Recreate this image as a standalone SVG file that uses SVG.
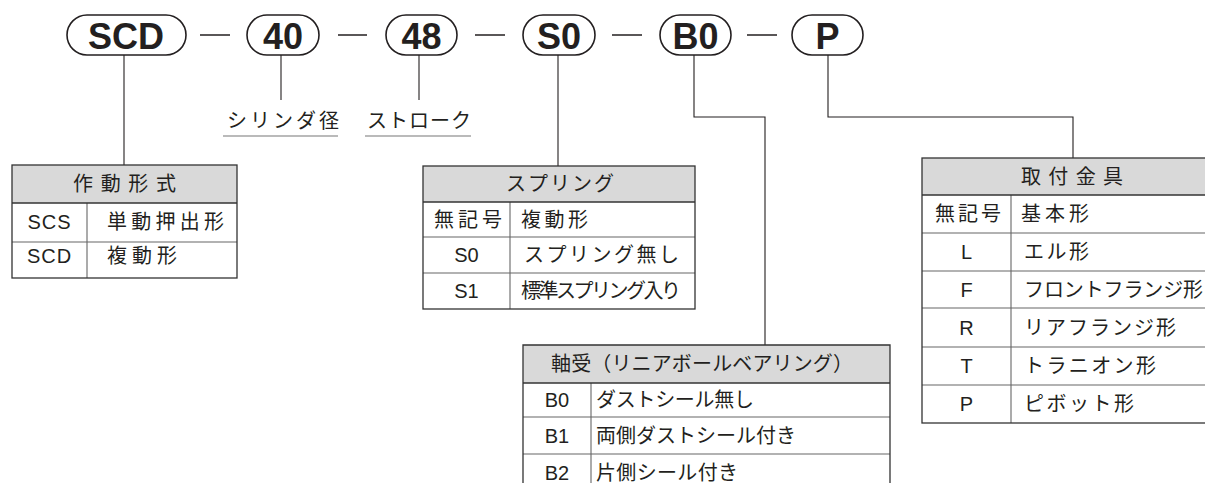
<svg xmlns="http://www.w3.org/2000/svg" width="1205" height="483" viewBox="0 0 1205 483">
<style>
.pill{fill:#fff;stroke:#231f20;stroke-width:1.6}
.pt{font-family:"Liberation Sans",Arial,sans-serif;font-weight:bold;font-size:36px;fill:#231f20;text-anchor:middle}
.dash{stroke:#231f20;stroke-width:1.5}
.con{fill:none;stroke:#231f20;stroke-width:1.1}
.t{font-family:"Liberation Sans","Noto Sans CJK JP",sans-serif;font-size:20px;fill:#231f20}
.c{text-anchor:middle}
.hd{fill:#d9d9d9;stroke:none}
.out{fill:none;stroke:#333;stroke-width:1.3}
.in{stroke:#666;stroke-width:1.1}
.ul{stroke:#777;stroke-width:1.2}
</style>
<g id="code">
<rect class="pill" x="67" y="15" width="119" height="40" rx="20"/>
<text class="pt" x="126" y="49">SCD</text>
<rect class="pill" x="247" y="15" width="72" height="40" rx="20"/>
<text class="pt" x="283" y="49">40</text>
<rect class="pill" x="386" y="15" width="71" height="40" rx="20"/>
<text class="pt" x="421.5" y="49">48</text>
<rect class="pill" x="523" y="15" width="72" height="40" rx="20"/>
<text class="pt" x="559" y="49">S0</text>
<rect class="pill" x="660" y="15" width="71" height="40" rx="20"/>
<text class="pt" x="695.5" y="49">B0</text>
<rect class="pill" x="792" y="15" width="71" height="40" rx="20"/>
<text class="pt" x="827.5" y="49">P</text>
<line class="dash" x1="200" y1="35" x2="230" y2="35"/>
<line class="dash" x1="338" y1="35" x2="367" y2="35"/>
<line class="dash" x1="475" y1="35" x2="505" y2="35"/>
<line class="dash" x1="612" y1="35" x2="642" y2="35"/>
<line class="dash" x1="747" y1="35" x2="777" y2="35"/>
</g>
<g id="connectors">
<path class="con" d="M124 55V165"/>
<path class="con" d="M281 55V100"/>
<path class="con" d="M419 55V100"/>
<path class="con" d="M558 55V166"/>
<path class="con" d="M694 55V117H765V345"/>
<path class="con" d="M828 55V117H1073V158"/>
</g>
<g id="label-bore">
<text class="t" x="227" y="128" font-size="21" textLength="112" lengthAdjust="spacing">シリンダ径</text>
<line class="ul" x1="223" y1="136" x2="338" y2="136"/>
</g>
<g id="label-stroke">
<text class="t" x="367" y="128" font-size="21" textLength="104" lengthAdjust="spacing">ストローク</text>
<line class="ul" x1="365" y1="136" x2="471" y2="136"/>
</g>
<g id="table-action">
<rect class="hd" x="12" y="165" width="225" height="38"/>
<line class="in" x1="12" y1="242" x2="237" y2="242"/>
<line class="in" x1="87" y1="203" x2="87" y2="278"/>
<line class="out" x1="12" y1="203" x2="237" y2="203"/>
<rect class="out" x="12" y="165" width="225" height="113"/>
<text class="t" x="73" y="191" textLength="103" lengthAdjust="spacing">作動形式</text>
<text class="t c" x="49.5" y="229" font-size="21" letter-spacing="1">SCS</text>
<text class="t" x="107" y="229" font-size="21" textLength="117" lengthAdjust="spacing">単動押出形</text>
<text class="t c" x="49.5" y="263" font-size="21" letter-spacing="1">SCD</text>
<text class="t" x="107" y="263" font-size="21" textLength="70" lengthAdjust="spacing">複動形</text>
</g>
<g id="table-spring">
<rect class="hd" x="423" y="166" width="272" height="36"/>
<line class="in" x1="423" y1="237" x2="695" y2="237"/>
<line class="in" x1="423" y1="273" x2="695" y2="273"/>
<line class="in" x1="510" y1="202" x2="510" y2="309"/>
<line class="out" x1="423" y1="202" x2="695" y2="202"/>
<rect class="out" x="423" y="166" width="272" height="143"/>
<text class="t" x="506" y="191" textLength="108" lengthAdjust="spacing">スプリング</text>
<text class="t" x="434" y="227" font-size="21" textLength="68" lengthAdjust="spacing">無記号</text>
<text class="t" x="521" y="227" font-size="21" textLength="67" lengthAdjust="spacing">複動形</text>
<text class="t c" x="466.5" y="262" font-size="21">S0</text>
<text class="t" x="524" y="262" font-size="21" textLength="155" lengthAdjust="spacing">スプリング無し</text>
<text class="t c" x="466.5" y="298" font-size="21">S1</text>
<text class="t" x="521" y="298" font-size="18" textLength="160" lengthAdjust="spacing">標準スプリング入り</text>
</g>
<g id="table-bearing">
<rect class="hd" x="523" y="345" width="367" height="38"/>
<line class="in" x1="523" y1="417" x2="890" y2="417"/>
<line class="in" x1="523" y1="454" x2="890" y2="454"/>
<line class="in" x1="591" y1="383" x2="591" y2="483"/>
<line class="out" x1="523" y1="383" x2="890" y2="383"/>
<path class="out" d="M523 483V345H890V483"/>
<text class="t" x="551" y="371" textLength="302" lengthAdjust="spacing">軸受（リニアボールベアリング）</text>
<text class="t c" x="557" y="407">B0</text>
<text class="t" x="596" y="407" textLength="158" lengthAdjust="spacing">ダストシール無し</text>
<text class="t c" x="557" y="443">B1</text>
<text class="t" x="596" y="443" textLength="200" lengthAdjust="spacing">両側ダストシール付き</text>
<text class="t c" x="557" y="480">B2</text>
<text class="t" x="596" y="480" textLength="142" lengthAdjust="spacing">片側シール付き</text>
</g>
<g id="table-mount">
<rect class="hd" x="922" y="158" width="300" height="37"/>
<line class="in" x1="922" y1="233" x2="1222" y2="233"/>
<line class="in" x1="922" y1="271" x2="1222" y2="271"/>
<line class="in" x1="922" y1="308" x2="1222" y2="308"/>
<line class="in" x1="922" y1="347" x2="1222" y2="347"/>
<line class="in" x1="922" y1="385" x2="1222" y2="385"/>
<line class="in" x1="1011" y1="195" x2="1011" y2="423"/>
<line class="out" x1="922" y1="195" x2="1222" y2="195"/>
<rect class="out" x="922" y="158" width="300" height="265"/>
<text class="t" x="1021" y="184" textLength="102" lengthAdjust="spacing">取付金具</text>
<text class="t" x="935" y="221" font-size="21" textLength="66" lengthAdjust="spacing">無記号</text>
<text class="t" x="1021" y="221" font-size="21" textLength="68" lengthAdjust="spacing">基本形</text>
<text class="t c" x="966.5" y="259" font-size="21">L</text>
<text class="t" x="1024" y="259" font-size="21" textLength="65" lengthAdjust="spacing">エル形</text>
<text class="t c" x="966.5" y="297" font-size="21">F</text>
<text class="t" x="1024" y="297" font-size="20.5" textLength="179" lengthAdjust="spacing">フロントフランジ形</text>
<text class="t c" x="966.5" y="335" font-size="21">R</text>
<text class="t" x="1024" y="335" font-size="21" textLength="152" lengthAdjust="spacing">リアフランジ形</text>
<text class="t c" x="966.5" y="373" font-size="21">T</text>
<text class="t" x="1024" y="373" font-size="21" textLength="132" lengthAdjust="spacing">トラニオン形</text>
<text class="t c" x="966.5" y="411" font-size="21">P</text>
<text class="t" x="1024" y="411" font-size="21" textLength="110" lengthAdjust="spacing">ピボット形</text>
</g>
</svg>
